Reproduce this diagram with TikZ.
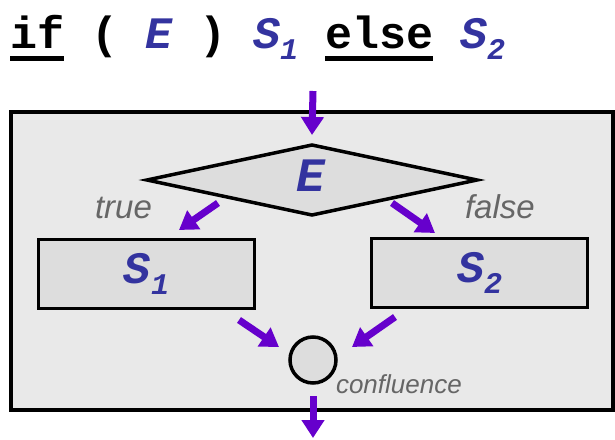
\documentclass[tikz,border=0pt]{standalone}
\usepackage{fontspec}
\usetikzlibrary{arrows.meta,shapes.geometric}
\newfontfamily\codefont{Liberation Mono}
\newfontfamily\labfont{Liberation Sans}
\definecolor{flowc}{HTML}{6600CC}
\definecolor{codeblue}{HTML}{33339F}
\definecolor{panel}{HTML}{E9E9E9}
\definecolor{shapefill}{HTML}{DDDDDD}
\definecolor{labgray}{HTML}{666666}
\newcommand\kw[1]{\setbox0=\hbox{#1}\rlap{\rule[-13pt]{\wd0}{5pt}}\box0\relax}
\newcommand\sym[2]{{\color{codeblue}\bfseries\itshape #1\raisebox{-11pt}{\fontsize{30}{30}\selectfont #2}}}

\begin{document}
\begin{tikzpicture}[x=1pt, y=-1pt, every node/.style={inner sep=0pt, outer sep=0pt},
	flow/.style={line width=7pt, draw=flowc, -{Triangle[width=22pt,length=18pt]}},
	part/.style={draw=black, fill=shapefill, line width=3.5pt},
	lab/.style={text=labgray, font=\labfont\itshape\fontsize{33}{33}\selectfont, anchor=base west}]
	\useasboundingbox (0,0) rectangle (615,439);
	\fill[panel] (11,112) rectangle (613,410);
	\draw[line width=3.5pt] (11,112) rectangle (613,410);
	\node[anchor=base west, font=\codefont\bfseries\fontsize{45}{50}\selectfont] (title) at (10,48) {\kw{if} ( \sym{E}{} ) \sym{S}{1} \kw{else} \sym{S}{2}};
	\node[part, diamond, minimum width=330pt, minimum height=70pt] (dec) at (312,180) {};
	\node[font=\codefont\fontsize{48}{50}\selectfont] (cond) at (311,181) {\sym{E}{}};
	\node[part, rectangle, minimum width=216pt, minimum height=69pt, font=\codefont\fontsize{45}{50}\selectfont] (s1) at (146.5,274) {\sym{S}{1}};
	\node[part, rectangle, minimum width=216pt, minimum height=69pt, font=\codefont\fontsize{45}{50}\selectfont] (s2) at (479.5,273) {\sym{S}{2}};
	\node[part, circle, minimum size=46pt] (conf) at (313,360) {};
	\node[lab] (t) at (95,218) {true};
	\node[lab] (f) at (465,218) {false};
	\node[lab, font=\labfont\itshape\fontsize{26}{26}\selectfont] (cl) at (336,393) {confluence};
	\coordinate (in) at (313,91);
	\coordinate (out) at (313,438);
	\coordinate (ta) at (218,203);
	\coordinate (tb) at (179,230);
	\coordinate (fa) at (392,203);
	\coordinate (fb) at (435,233);
	\coordinate (ja) at (239,320);
	\coordinate (jb) at (279,347);
	\coordinate (ka) at (395,317);
	\coordinate (kb) at (352,347);
	\draw[flow] (in) -- ([yshift=10pt]dec.north);
	\draw[flow] (ta) -- (tb);
	\draw[flow] (fa) -- (fb);
	\draw[flow] (ja) -- (jb);
	\draw[flow] (ka) -- (kb);
	\draw[flow] ([yshift=-13pt]conf.south) -- (out);
\end{tikzpicture}
\end{document}
